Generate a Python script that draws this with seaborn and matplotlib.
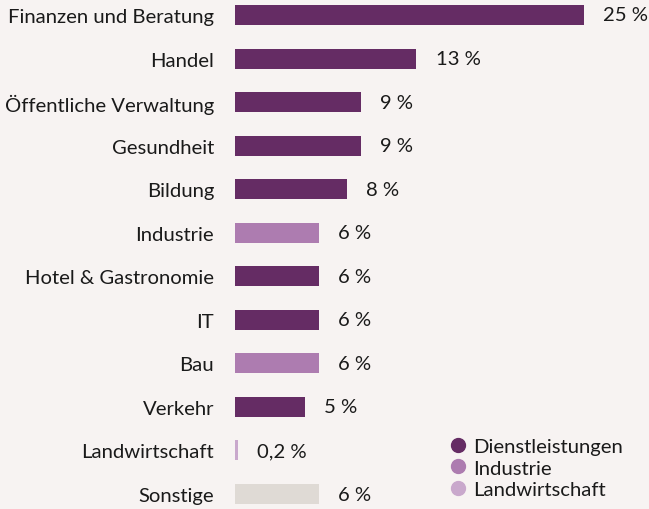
import matplotlib
matplotlib.use("Agg")
import matplotlib.pyplot as plt
from matplotlib.lines import Line2D
import seaborn as sns
import pandas as pd

branchen = ["Finanzen und Beratung", "Handel", "Öffentliche Verwaltung", "Gesundheit",
            "Bildung", "Industrie", "Hotel & Gastronomie", "IT", "Bau", "Verkehr",
            "Landwirtschaft", "Sonstige"]
anteile = [25, 13, 9, 9, 8, 6, 6, 6, 6, 5, 0.2, 6]
sektoren = ["Dienstleistungen", "Dienstleistungen", "Dienstleistungen", "Dienstleistungen",
            "Dienstleistungen", "Industrie", "Dienstleistungen", "Dienstleistungen",
            "Industrie", "Dienstleistungen", "Landwirtschaft", "Sonstige"]
legend_sektoren = ["Dienstleistungen", "Industrie", "Landwirtschaft"]

farben = {"Dienstleistungen": "#652c64", "Industrie": "#ad7cb0",
          "Landwirtschaft": "#c9a8cc", "Sonstige": "#dfdad5"}
bg = "#f7f3f2"
textfarbe = "#1a1a1a"
fs = 14.6

df = pd.DataFrame({"Branche": branchen, "Anteil": anteile, "Sektor": sektoren})

sns.set_style("white")
plt.rcParams["font.family"] = ["Lato", "DejaVu Sans"]

fig = plt.figure(figsize=(6.49, 5.10), dpi=100, facecolor=bg)
ax = fig.add_axes([235 / 649, 0, 1 - 235 / 649, 1])
ax.set_facecolor(bg)

sns.barplot(data=df, y="Branche", x="Anteil", hue="Sektor", palette=farben,
            dodge=False, width=0.46, orient="h", legend=False, saturation=1,
            linewidth=0, ax=ax)

px_per_unit = 349 / 25
ax.set_xlim(0, (649 - 235) / px_per_unit)
ax.set_ylim(11 + 15 / 43.55, -16 / 43.55)

for cont in ax.containers:
    labels = []
    for bar in cont:
        v = bar.get_width()
        if v != v or v == 0:
            labels.append("")
            continue
        s = f"{v:.1f}".replace(".", ",") if v < 1 else f"{v:.0f}"
        labels.append(f"{s} %")
    ax.bar_label(cont, labels=labels, padding=14, fontsize=fs, color=textfarbe)

ax.set_xlabel("")
ax.set_ylabel("")
ax.set_xticks([])
ax.tick_params(axis="y", length=0, pad=15, labelsize=fs, labelcolor=textfarbe)
for sp in ax.spines.values():
    sp.set_visible(False)

handles = [Line2D([0], [0], marker="o", linestyle="", markersize=10,
                  markerfacecolor=farben[s], markeredgecolor=farben[s]) for s in legend_sektoren]
leg = fig.legend(handles, legend_sektoren, loc="upper left",
                 bbox_to_anchor=(436 / 649, 1 - 429 / 510), frameon=False,
                 fontsize=fs, handletextpad=0.15, labelspacing=0.2,
                 borderpad=0, handlelength=1.2)
for t in leg.get_texts():
    t.set_color(textfarbe)

fig.savefig("out.png", dpi=100, facecolor=bg)
